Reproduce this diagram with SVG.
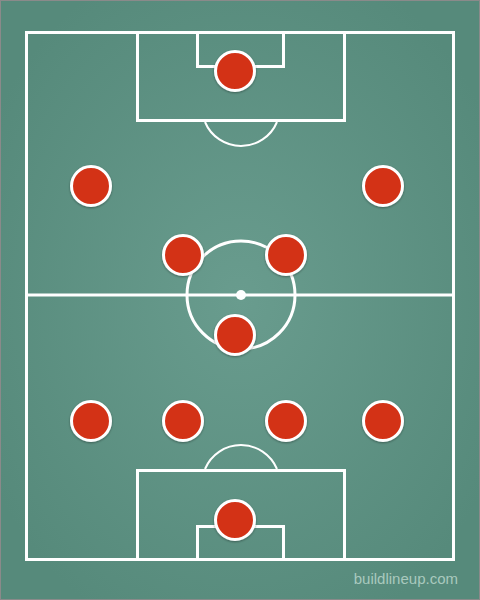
<svg xmlns="http://www.w3.org/2000/svg" width="480" height="600" viewBox="0 0 480 600">
<defs>
<radialGradient id="bg" cx="50%" cy="50%" r="60%">
<stop offset="0" stop-color="#699c8e"/>
<stop offset="1" stop-color="#568a7b"/>
</radialGradient>
<filter id="sh" x="-30%" y="-30%" width="160%" height="160%">
<feDropShadow dx="0" dy="1" stdDeviation="1" flood-color="#000" flood-opacity="0.35"/>
</filter>
</defs>
<style>
.ln{fill:none;stroke:#fff;stroke-width:3}
.arc{fill:none;stroke:#fff;stroke-width:2}
.pl{fill:#d33218;stroke:#fff;stroke-width:3;filter:url(#sh)}
.wm{font-family:"Liberation Sans",Arial,sans-serif;font-size:15px;fill:#a9c9be}
</style>
<rect x="0.5" y="0.5" width="479" height="599" fill="url(#bg)" stroke="#8a8a8a" stroke-width="1"/>
<g id="pitch">
<rect class="ln" x="26.5" y="32.5" width="427" height="527"/>
<line class="ln" x1="26.5" y1="295" x2="453.5" y2="295"/>
<circle class="ln" cx="241" cy="295" r="54"/>
<circle cx="241" cy="295" r="5" fill="#fff"/>
<rect class="ln" x="137.5" y="32.5" width="207" height="88"/>
<rect class="ln" x="197.5" y="32.5" width="86" height="34"/>
<path class="arc" d="M205 122 A39 39 0 0 0 277 122"/>
<rect class="ln" x="137.5" y="470.5" width="207" height="89"/>
<rect class="ln" x="197.5" y="526.5" width="86" height="33"/>
<path class="arc" d="M205 469 A39 39 0 0 1 277 469"/>
</g>
<g id="players">
<circle id="p1" class="pl" cx="235" cy="71" r="19.5"/>
<circle id="p2" class="pl" cx="91" cy="186" r="19.5"/>
<circle id="p3" class="pl" cx="383" cy="186" r="19.5"/>
<circle id="p4" class="pl" cx="183" cy="255" r="19.5"/>
<circle id="p5" class="pl" cx="286" cy="255" r="19.5"/>
<circle id="p6" class="pl" cx="235" cy="335" r="19.5"/>
<circle id="p7" class="pl" cx="91" cy="421" r="19.5"/>
<circle id="p8" class="pl" cx="183" cy="421" r="19.5"/>
<circle id="p9" class="pl" cx="286" cy="421" r="19.5"/>
<circle id="p10" class="pl" cx="383" cy="421" r="19.5"/>
<circle id="p11" class="pl" cx="235" cy="520" r="19.5"/>
</g>
<text class="wm" x="458" y="584" text-anchor="end">buildlineup.com</text>
</svg>
